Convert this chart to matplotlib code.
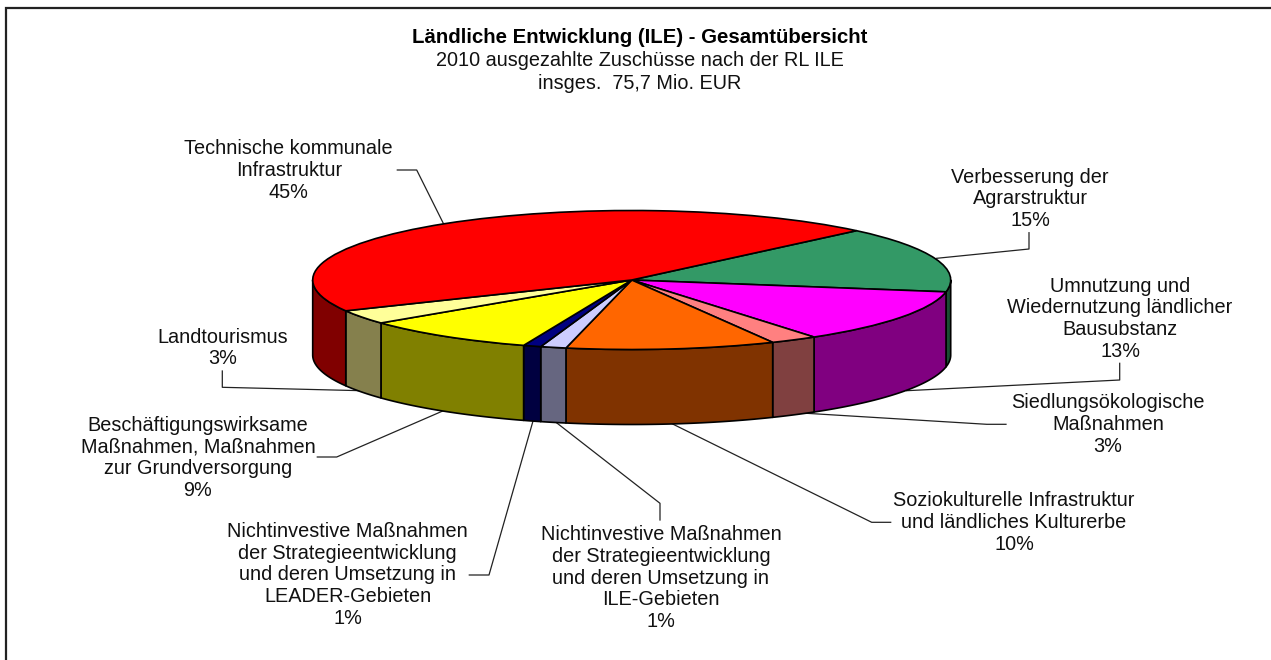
import numpy as np
import matplotlib
matplotlib.use('Agg')
import matplotlib.pyplot as plt
from matplotlib.patches import Polygon, Wedge
from matplotlib.transforms import Affine2D

plt.rcParams['font.family'] = ['Liberation Sans', 'DejaVu Sans']

# slices, clockwise from the green one
categories = ['Verbesserung der\nAgrarstruktur',
              'Umnutzung und\nWiedernutzung ländlicher\nBausubstanz',
              'Siedlungsökologische\nMaßnahmen',
              'Soziokulturelle Infrastruktur\nund ländliches Kulturerbe',
              'Nichtinvestive Maßnahmen\nder Strategieentwicklung\nund deren Umsetzung in\nILE-Gebieten',
              'Nichtinvestive Maßnahmen\nder Strategieentwicklung\nund deren Umsetzung in\nLEADER-Gebieten',
              'Beschäftigungswirksame\nMaßnahmen, Maßnahmen\nzur Grundversorgung',
              'Landtourismus',
              'Technische kommunale\nInfrastruktur']
percent_labels = [15, 13, 3, 10, 1, 1, 9, 3, 45]
# shares estimated from the slice edges in the picture
shares = [15.3, 12.6, 2.4, 10.6, 1.3, 0.9, 8.9, 3.3, 44.8]
top_colors = ['#339966', '#FF00FF', '#FF8080', '#FF6600', '#CCCCFF',
              '#000080', '#FFFF00', '#FFFF99', '#FF0000']
side_colors = ['#1A4D33', '#800080', '#804040', '#803300', '#666680',
               '#000040', '#808000', '#85804D', '#800000']

title_lines = ['Ländliche Entwicklung (ILE) - Gesamtübersicht',
               '2010 ausgezahlte Zuschüsse nach der RL ILE',
               'insges.  75,7 Mio. EUR']

# layout in pixels
cx, cy = 631.7, 280
rx, ry = 319, 69.5
depth = 75
start_angle = 45.2
label_pos = [(1030, 199), (1120, 318.7), (1108, 424.5), (1014, 522.5), (661, 578),
             (347.5, 575), (198, 458), (222.3, 348), (288.8, 170.5)]
leaders = [[(1029, 232.7), (1029, 249), (936.7, 258.3)],
           [(1119.7, 363.3), (1119.7, 380), (906.7, 390.7)],
           [(1006, 424.3), (986.7, 424.3), (796.7, 412.7)],
           [(890.7, 522.3), (871.7, 522.3), (670, 422.7)],
           [(660, 520), (660, 503.3), (554.3, 421)],
           [(469.3, 575), (489, 575), (533.3, 420)],
           [(317.3, 457), (336.7, 457), (445, 410)],
           [(222.3, 371), (222.3, 387.3), (361.7, 390.7)],
           [(397.3, 170), (416.7, 170), (443.3, 223.3)]]

fig = plt.figure(figsize=(12.71, 6.6), dpi=100)
ax = fig.add_axes([0, 0, 1, 1])
ax.set_xlim(0, 1271)
ax.set_ylim(660, 0)
ax.axis('off')

# chart frame, only left and top are inside the picture
ax.plot([5.5, 5.5, 1271], [660, 7.5, 7.5], color='#222222', lw=1.6, solid_joinstyle='miter')

for pts in leaders:
    xs, ys = zip(*pts)
    ax.plot(xs, ys, color='#222222', lw=0.9, zorder=1)

fracs = np.array(shares) / sum(shares) * 360
ends = start_angle - np.cumsum(fracs)
starts = ends + fracs
to_pixels = Affine2D().scale(rx, -ry).translate(cx, cy) + ax.transData

# outer wall: only the part of each slice on the front half
for a1, a0, col in zip(starts, ends, side_colors):
    for lo, hi in [(-180, 0), (-540, -360)]:
        t0, t1 = max(a0, lo), min(a1, hi)
        if t1 <= t0:
            continue
        t = np.radians(np.linspace(t0, t1, 60))
        x = cx + rx * np.cos(t)
        y = cy - ry * np.sin(t)
        poly = np.r_[np.c_[x, y], np.c_[x[::-1], y[::-1] + depth]]
        ax.add_patch(Polygon(poly, closed=True, facecolor=col, edgecolor='black',
                             lw=1.2, joinstyle='round', zorder=2))

# top face
for a1, a0, col in zip(starts, ends, top_colors):
    ax.add_patch(Wedge((0, 0), 1, a0, a1, facecolor=col, edgecolor='black', lw=1.2,
                       transform=to_pixels, zorder=3))

for name, pct, (tx, ty) in zip(categories, percent_labels, label_pos):
    ax.text(tx, ty, '{}\n{}%'.format(name, pct), ha='center', va='center',
            ma='center', fontsize=14.3, linespacing=1.18, color='#111111', zorder=4)

ax.text(640, 37.3, title_lines[0], ha='center', va='center', fontsize=14.7,
        fontweight='bold', color='black')
ax.text(640, 60, title_lines[1], ha='center', va='center', fontsize=14.3, color='#111111')
ax.text(640, 83.3, title_lines[2], ha='center', va='center', fontsize=14.3, color='#111111')

fig.savefig('out.png', dpi=100)
